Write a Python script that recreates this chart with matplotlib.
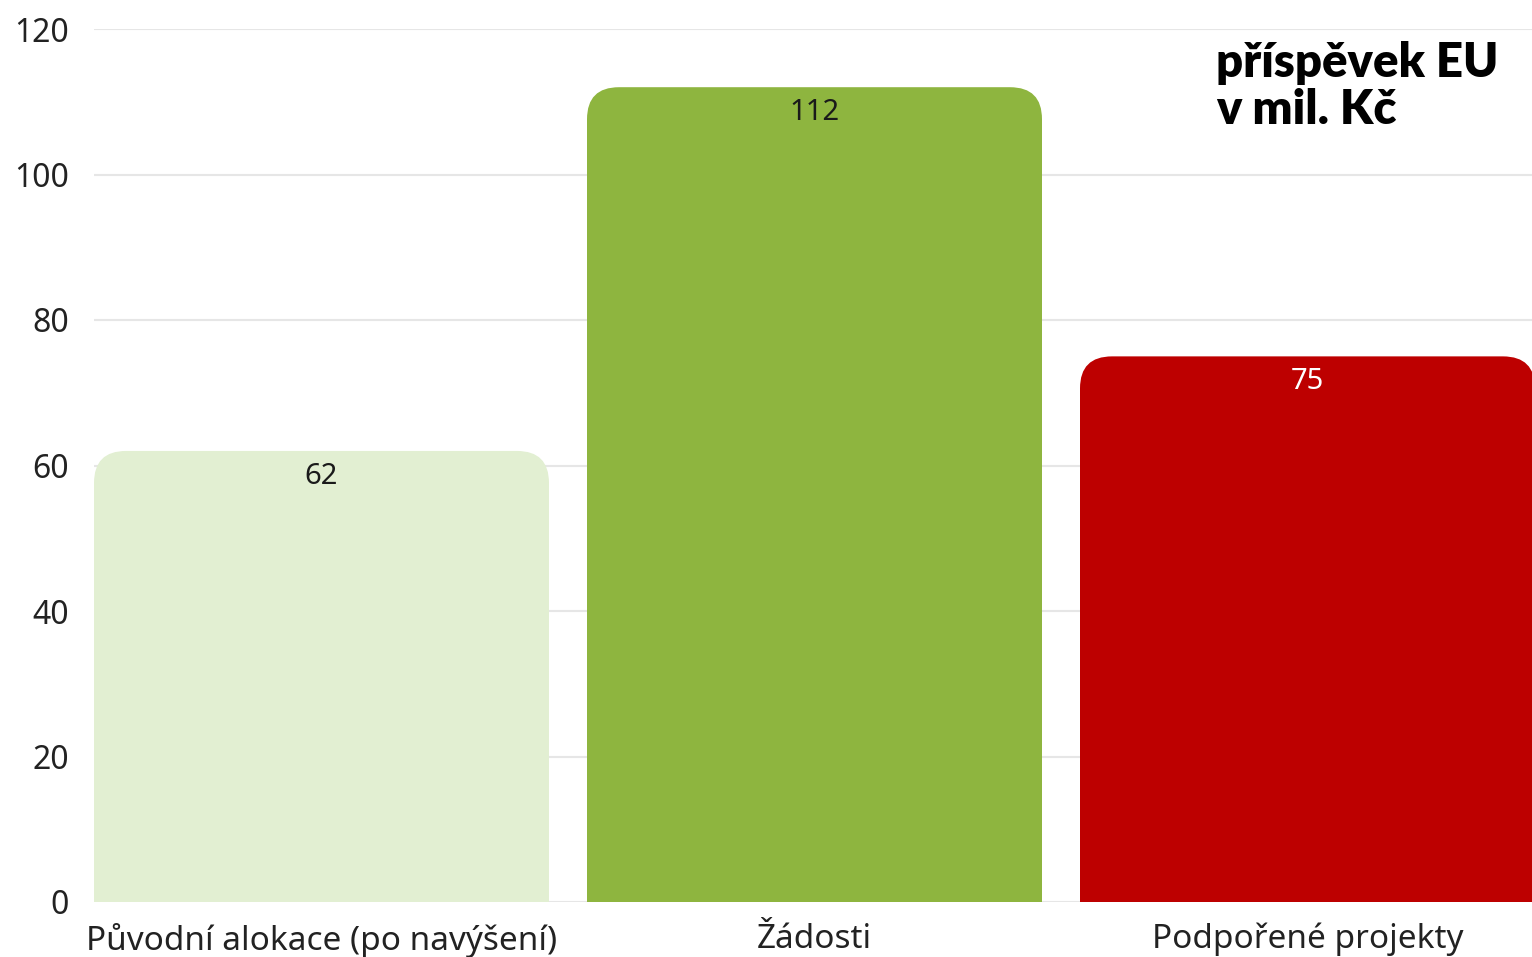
import matplotlib

matplotlib.use("Agg")
import matplotlib.pyplot as plt
from matplotlib.patches import FancyBboxPatch

categories = ["Původní alokace (po navýšení)", "Žádosti", "Podpořené projekty"]
values = [62, 112, 75]
bar_colors = ["#e2efd2", "#8eb53f", "#bd0000"]
label_colors = ["#1a1a1a", "#1a1a1a", "#ffffff"]
y_ticks = [0, 20, 40, 60, 80, 100, 120]
title = "příspěvek EU\nv mil. Kč"

plt.rcParams["font.family"] = ["Noto Sans", "DejaVu Sans"]

W, H, DPI = 1532, 957, 100
fig = plt.figure(figsize=(W / DPI, H / DPI), dpi=DPI)
ax = fig.add_axes([94 / W, 55 / H, (1532 - 94) / W, (902 - 29) / H])

bar_width = 455 / 493
ax.set_xlim(-bar_width / 2, (1532 - 94) / 493 - bar_width / 2)
ax.set_ylim(0, 120)

# data units per pixel, to keep the rounded corners circular
x_per_px = (ax.get_xlim()[1] - ax.get_xlim()[0]) / (1532 - 94)
y_per_px = 120 / (902 - 29)
radius_px = 32

for i, (value, color) in enumerate(zip(values, bar_colors)):
    left = i - bar_width / 2
    bottom = -radius_px * 2 * y_per_px
    patch = FancyBboxPatch(
        (left, bottom), bar_width, value - bottom,
        boxstyle=f"round,pad=0,rounding_size={radius_px * x_per_px}",
        mutation_aspect=y_per_px / x_per_px,
        facecolor=color, edgecolor="none", zorder=2, clip_on=True,
    )
    ax.add_patch(patch)
    ax.text(i, value - 3.5, str(value), ha="center", va="center",
            fontsize=21, color=label_colors[i], zorder=3)

ax.set_yticks(y_ticks)
ax.set_xticks(range(len(categories)))
ax.set_xticklabels(categories)
ax.tick_params(axis="y", length=0, pad=18, labelsize=23, labelcolor="#222222")
ax.tick_params(axis="x", length=0, pad=15, labelsize=24, labelcolor="#222222")
ax.grid(axis="y", color="#e6e6e6", linewidth=1.5, zorder=0)
ax.set_axisbelow(True)
for spine in ax.spines.values():
    spine.set_visible(False)

fig.text(1216 / W, 1 - 41 / H, title, ha="left", va="top", fontsize=34,
         fontweight="heavy", family=["Lato", "DejaVu Sans"], color="#000000",
         linespacing=1.08)

fig.savefig("out.png", dpi=DPI)
